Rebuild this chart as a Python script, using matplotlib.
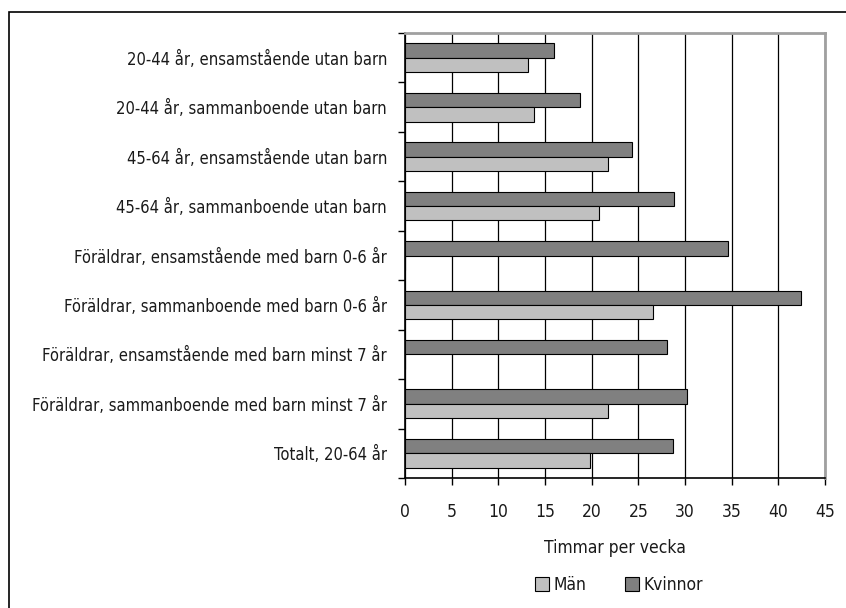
import numpy as np
import matplotlib
matplotlib.use('Agg')
import matplotlib.pyplot as plt
from matplotlib.patches import Rectangle
from matplotlib import font_manager

# condensed font if we have one
names = {f.name for f in font_manager.fontManager.ttflist}
if 'Liberation Sans Narrow' in names:
    plt.rcParams['font.family'] = ['Liberation Sans Narrow', 'DejaVu Sans']
else:
    plt.rcParams['font.family'] = ['DejaVu Sans']
    plt.rcParams['font.stretch'] = 'condensed'

categories = [
    '20-44 år, ensamstående utan barn',
    '20-44 år, sammanboende utan barn',
    '45-64 år, ensamstående utan barn',
    '45-64 år, sammanboende utan barn',
    'Föräldrar, ensamstående med barn 0-6 år',
    'Föräldrar, sammanboende med barn 0-6 år',
    'Föräldrar, ensamstående med barn minst 7 år',
    'Föräldrar, sammanboende med barn minst 7 år',
    'Totalt, 20-64 år',
]
kvinnor = [16.0, 18.8, 24.3, 28.8, 34.6, 42.4, 28.1, 30.2, 28.7]
man = [13.2, 13.8, 21.8, 20.8, np.nan, 26.6, np.nan, 21.8, 19.8]

fig = plt.figure(figsize=(8.46, 6.08), dpi=100)
ax = fig.add_axes([405/846, 1-478/608, 420/846, 445/608])

# outer frame, cut off at right and bottom
fig.patches.append(Rectangle((9/846, -0.1), 2.0, 1 - 12/608 + 0.1, transform=fig.transFigure,
                             fill=False, edgecolor='black', linewidth=1.2))

y = np.arange(len(categories)) + 0.5
h = 0.29
ax.barh(y - h/2, kvinnor, height=h, color='#808080', edgecolor='black', linewidth=0.8,
        label='Kvinnor', zorder=3)
m_vals = np.nan_to_num(man)
ax.barh(y + h/2, m_vals, height=h, color='#c0c0c0', edgecolor='black', linewidth=0.8,
        label='Män', zorder=3)

ax.set_xlim(0, 45)
ax.set_ylim(len(categories), 0)
ax.set_xticks(np.arange(0, 46, 5))
ax.set_yticks(np.arange(0, len(categories) + 1))
ax.set_yticklabels([])
ax.set_yticks(y, minor=True)
ax.set_yticklabels(categories, minor=True, fontsize=11.9, color='#1a1a1a')
ax.tick_params(axis='y', which='minor', length=0, pad=13)
ax.tick_params(axis='y', which='major', length=5, width=1, direction='out')
ax.tick_params(axis='x', length=5, width=1, direction='out', labelsize=12.5, pad=13,
               labelcolor='#1a1a1a')

ax.grid(axis='x', color='black', linewidth=0.9, zorder=0)
ax.set_axisbelow(True)

ax.spines['left'].set_color('black')
ax.spines['bottom'].set_color('black')
ax.spines['left'].set_linewidth(1.2)
ax.spines['bottom'].set_linewidth(1.2)
for s in ['top', 'right']:
    ax.spines[s].set_color('#a0a0a0')
    ax.spines[s].set_linewidth(2)

ax.set_xlabel('Timmar per vecka', fontsize=12.5, labelpad=13, color='#1a1a1a')

handles, labels = ax.get_legend_handles_labels()
fig.legend(handles[::-1], labels[::-1], loc='center', bbox_to_anchor=(619/846, 1-585/608),
           ncol=2, frameon=False, fontsize=12.5, handlelength=0.8, handleheight=0.8,
           columnspacing=2.2, handletextpad=0.3, labelcolor='#1a1a1a')

fig.savefig('out.png', dpi=100)
